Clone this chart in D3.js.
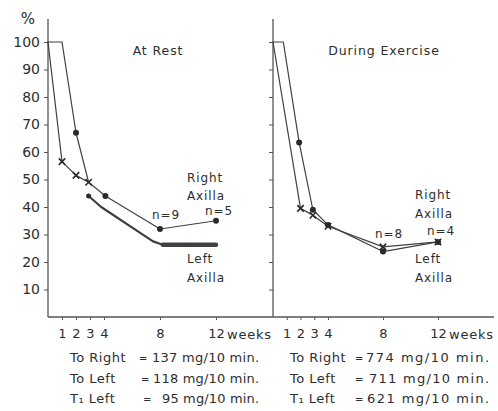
<!DOCTYPE html>
<html>
<head>
<meta charset="utf-8">
<script src="https://cdn.jsdelivr.net/npm/d3@7"></script>
<style>
  body { margin: 0; background: #fff; }
  svg text { font-family: "DejaVu Sans", sans-serif; fill: #2e2e2e; }
  .axis path, .axis line { stroke: #555; }
</style>
</head>
<body>
<div id="chart"></div>
<script>
// week ticks and y ticks
var weekTicks = [1, 2, 3, 4, 8, 12];
var pctTicks = [10, 20, 30, 40, 50, 60, 70, 80, 90, 100];

// At rest
var restDotWeeks = [0, 1, 2, 2.9, 4.1, 8, 12];
var restDotPct = [100, 100, 67, 49, 44, 32, 35];
var restCrossWeeks = [0, 1, 2, 2.9];
var restCrossPct = [100, 56.5, 51.5, 49];
var restLowWeeks = [2.9, 3.8, 7.5, 8.2, 12];
var restLowPct = [44, 40, 27.5, 26.3, 26.3];

// During exercise
var exDotWeeks = [0, 0.75, 1.9, 2.9, 4, 8, 12];
var exDotPct = [100, 100, 63.5, 39, 33.5, 23.8, 27.3];
var exCrossWeeks = [0, 2, 2.9, 4, 8, 12];
var exCrossPct = [100, 39.5, 37, 33, 25.5, 27.3];

var restNotes = [["To Right", "=", "137 mg/10 min."], ["To Left", "=", "118 mg/10 min."], ["T₁ Left", "=", "95 mg/10 min."]];
var exNotes = [["To Right", "=", "774 mg/10 min."], ["To Left", "=", "711  mg/10 min."], ["T₁ Left", "=", "621 mg/10 min."]];

var width = 498, height = 411;
var lineColor = '#404040';

var svg = d3.select("#chart").append("svg")
    .attr("width", width)
    .attr("height", height);

var y = d3.scaleLinear().domain([0, 100]).range([317, 42]);
var xRest = d3.scaleLinear().domain([0, 12]).range([48, 216]);
var xEx = d3.scaleLinear().domain([0, 12]).range([273, 438]);

function zip(w, p) { return w.map(function(d, i) { return { w: d, p: p[i] }; }); }

// baseline
svg.append("line")
    .attr("x1", 48).attr("x2", 494)
    .attr("y1", y(0)).attr("y2", y(0))
    .attr("stroke", "#555").attr("stroke-width", 1.3);

// y axes
function yAxis(x0, labels) {
    var g = svg.append("g")
        .attr("class", "axis")
        .attr("transform", "translate(" + x0 + ",0)")
        .call(d3.axisLeft(y).tickValues(pctTicks).tickSize(4).tickFormat(labels ? d3.format("d") : ""));
    g.select(".domain").remove();
    g.append("line").attr("y1", 19).attr("y2", y(0)).attr("stroke", "#555").attr("stroke-width", 1.3);
    g.selectAll(".tick line").attr("stroke-width", 1);
    g.selectAll("text")
        .attr("x", -8)
        .style("font-size", "14px")
        .style("fill", "#2e2e2e");
}
yAxis(xRest(0), true);
yAxis(xEx(0), false);

svg.append("text").attr("x", 28).attr("y", 24).attr("text-anchor", "middle")
    .style("font-size", "15px").text("%");

// x axes
function xAxis(x) {
    var g = svg.append("g")
        .attr("class", "axis")
        .attr("transform", "translate(0," + y(0) + ")")
        .call(d3.axisBottom(x).tickValues(weekTicks).tickSize(3).tickPadding(9));
    g.select(".domain").remove();
    g.selectAll(".tick line").attr("stroke", "#888");
    g.selectAll("text").style("font-size", "13px").style("fill", "#2e2e2e");
    svg.append("text")
        .attr("x", x(12) + 11).attr("y", y(0) + 22)
        .style("font-size", "13px").style("letter-spacing", "0.8px")
        .text("weeks");
}
xAxis(xRest);
xAxis(xEx);

// lines and markers
function drawLine(x, data, w) {
    var line = d3.line()
        .x(function(d) { return x(d.w); })
        .y(function(d) { return y(d.p); });
    svg.append("path")
        .datum(data)
        .attr("d", line)
        .attr("fill", "none")
        .attr("stroke", lineColor)
        .attr("stroke-width", w)
        .attr("stroke-linejoin", "round")
        .attr("stroke-linecap", "round");
}

function dots(x, data, r) {
    svg.selectAll(null).data(data).enter().append("circle")
        .attr("cx", function(d) { return x(d.w); })
        .attr("cy", function(d) { return y(d.p); })
        .attr("r", r)
        .attr("fill", "#2a2a2a");
}

function crosses(x, data) {
    var s = 3.2;
    svg.selectAll(null).data(data).enter().append("path")
        .attr("d", function(d) {
            var cx = x(d.w), cy = y(d.p);
            return "M" + (cx - s) + "," + (cy - s) + "L" + (cx + s) + "," + (cy + s) +
                   "M" + (cx - s) + "," + (cy + s) + "L" + (cx + s) + "," + (cy - s);
        })
        .attr("stroke", "#2a2a2a")
        .attr("stroke-width", 1.6);
}

// At rest
var restDot = zip(restDotWeeks, restDotPct);
var restCross = zip(restCrossWeeks, restCrossPct);
var restLow = zip(restLowWeeks, restLowPct);
drawLine(xRest, restDot, 1.2);
drawLine(xRest, restCross, 1.2);
drawLine(xRest, restLow, 2.2);
drawLine(xRest, restLow.slice(-2), 4.5);
dots(xRest, restDot.filter(function(d) { return d.w > 1 && d.w !== 2.9; }), 3);
dots(xRest, restLow.slice(0, 1), 2.5);
crosses(xRest, restCross.filter(function(d) { return d.w > 0; }));

// During exercise
var exDot = zip(exDotWeeks, exDotPct);
var exCross = zip(exCrossWeeks, exCrossPct);
drawLine(xEx, exDot, 1.2);
drawLine(xEx, exCross, 1.2);
dots(xEx, exDot.filter(function(d) { return d.w > 1; }), 3);
crosses(xEx, exCross.filter(function(d) { return d.w > 0; }));

// labels
function label(x, yy, t, size, anchor) {
    return svg.append("text")
        .attr("x", x).attr("y", yy)
        .attr("text-anchor", anchor || "start")
        .style("font-size", (size || 12) + "px")
        .style("letter-spacing", "0.9px")
        .text(t);
}
label(158, 55, "At Rest", 12.5, "middle");
label(384, 55, "During Exercise", 12.5, "middle");

label(187, 182, "Right");
label(187, 200, "Axilla");
label(152, 219, "n=9");
label(205, 215, "n=5");
label(187, 263, "Left");
label(187, 282, "Axilla");

label(415, 199, "Right");
label(415, 218, "Axilla");
label(375, 238, "n=8");
label(427, 235, "n=4");
label(415, 263, "Left");
label(415, 282, "Axilla");

// notes under the axis
function notes(rows, x0, xEq, xVal, xEnd) {
    rows.forEach(function(r, i) {
        var yy = 362 + i * 20.5;
        label(x0, yy, r[0], 13).style("letter-spacing", "0.5px");
        label(xEq[i], yy, r[1], 10).style("letter-spacing", "0px");
        label(xVal[i], yy, r[2], 13)
            .attr("textLength", xEnd - xVal[i])
            .attr("lengthAdjust", "spacing");
    });
}
notes(restNotes, 70, [139, 141, 143], [152, 153, 162], 260);
notes(exNotes, 290, [355, 355, 355], [366, 369, 367], 490);
</script>
</body>
</html>
